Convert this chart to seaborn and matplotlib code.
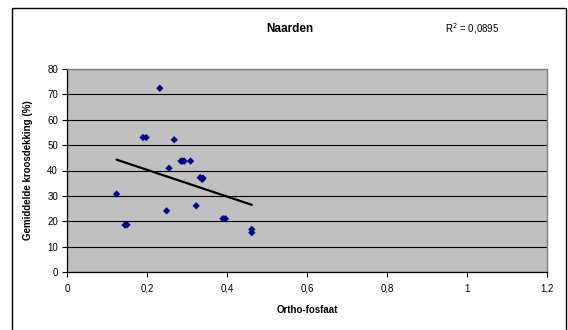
import matplotlib
matplotlib.use("Agg")
import matplotlib.pyplot as plt
import seaborn as sns
import pandas as pd
from matplotlib.patches import Rectangle

# ---- data ----
orthofosfaat = [0.124, 0.145, 0.150, 0.190, 0.198, 0.232, 0.249, 0.255, 0.268,
                0.285, 0.289, 0.293, 0.309, 0.323, 0.333, 0.338, 0.340,
                0.390, 0.396, 0.462, 0.462]
kroosdekking = [30.7, 18.5, 18.6, 53.0, 53.0, 72.4, 24.1, 40.9, 52.1,
                43.7, 43.7, 43.7, 43.7, 26.1, 37.2, 36.5, 37.0,
                21.0, 21.0, 15.5, 16.8]
x_ticks = [0, 0.2, 0.4, 0.6, 0.8, 1.0, 1.2]
x_tick_labels = ["0", "0,2", "0,4", "0,6", "0,8", "1", "1,2"]
y_ticks = [0, 10, 20, 30, 40, 50, 60, 70, 80]
title = "Naarden"
r2_text = "R$^2$ = 0,0895"
x_label = "Ortho-fosfaat"
y_label = "Gemiddelde kroosdekking (%)"

df = pd.DataFrame({"x": orthofosfaat, "y": kroosdekking})

sns.set_theme(style="white")
plt.rcParams["font.family"] = ["Liberation Sans", "DejaVu Sans"]
plt.rcParams["text.color"] = "black"
plt.rcParams["axes.labelcolor"] = "black"
plt.rcParams["xtick.color"] = "black"
plt.rcParams["ytick.color"] = "black"

fig = plt.figure(figsize=(5.68, 3.30), dpi=100)
ax = fig.add_axes([67 / 568, (330 - 272) / 330, (547 - 67) / 568, (272 - 69) / 330])

ax.set_facecolor("#C0C0C0")
ax.set_axisbelow(True)
ax.yaxis.grid(True, color="black", linewidth=0.8)
ax.xaxis.grid(False)

sns.regplot(data=df, x="x", y="y", ax=ax, ci=None, truncate=True,
            scatter=False, line_kws=dict(color="black", linewidth=1.6))
sns.scatterplot(data=df, x="x", y="y", ax=ax, marker="D", s=14,
                color="#000080", edgecolor="none", zorder=3)

ax.set_xlim(0, 1.2)
ax.set_ylim(0, 80)
ax.set_xticks(x_ticks)
ax.set_xticklabels(x_tick_labels)
ax.set_yticks(y_ticks)
ax.tick_params(axis="both", which="major", labelsize=7, length=3.5, width=0.8,
               color="black", labelcolor="black", direction="out", pad=3,
               bottom=True, left=True)
ax.tick_params(axis="x", pad=5)

for side in ["top", "right"]:
    ax.spines[side].set_color("#808080")
    ax.spines[side].set_linewidth(1.0)
for side in ["left", "bottom"]:
    ax.spines[side].set_color("black")
    ax.spines[side].set_linewidth(0.9)

ax.set_xlabel(x_label, fontsize=7, fontweight="bold", labelpad=8, color="black")
ax.set_ylabel(y_label, fontsize=7, fontweight="bold", labelpad=10, color="black")

fig.text(290 / 568, 1 - 29 / 330, title, ha="center", va="center",
         fontsize=8.5, fontweight="bold", color="black")
fig.text(445 / 568, 1 - 29 / 330, r2_text, ha="left", va="center", fontsize=7,
         color="black")

# outer chart border
fig.patches.append(Rectangle((12 / 568, -0.05), (566 - 12) / 568, 1.05 - 8 / 330,
                             transform=fig.transFigure, fill=False,
                             edgecolor="black", linewidth=1.0))

fig.savefig("out.png", dpi=100)
